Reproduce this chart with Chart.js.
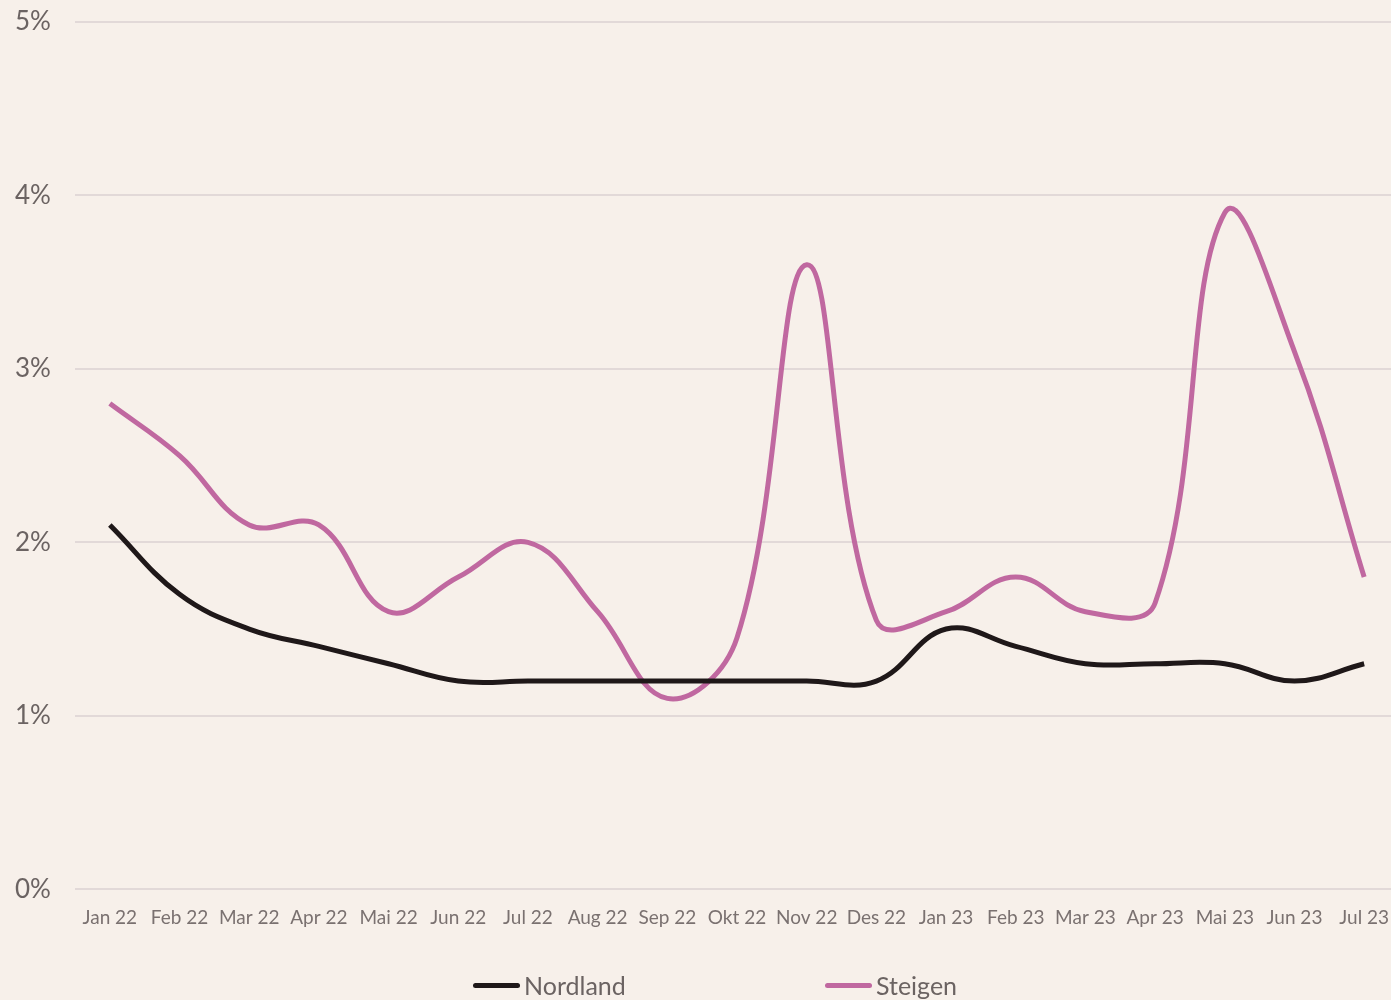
<!DOCTYPE html>
<html>
<head>
<meta charset="utf-8">
<script src="https://cdn.jsdelivr.net/npm/chart.js@4"></script>
<style>
  html, body { margin: 0; padding: 0; background: #f7f0ea; overflow: hidden; }
  #wrap { position: relative; width: 1391px; height: 1000px; overflow: hidden; }
  #legend { position: absolute; top: 970px; left: 0; width: 1391px; height: 30px; font-family: Lato, "Open Sans", sans-serif; font-size: 25px; color: #6b6362; }
  .item { position: absolute; top: 0; display: flex; align-items: center; }
  .swatch { width: 47px; height: 5px; border-radius: 3px; margin-right: 4px; }
</style>
</head>
<body>
<div id="wrap">
  <!-- canvas a bit wider than the page: the original plot runs past the right edge -->
  <canvas id="chart" width="1399" height="1000"></canvas>
  <div id="legend"></div>
</div>
<script>
const months = ['Jan 22', 'Feb 22', 'Mar 22', 'Apr 22', 'Mai 22', 'Jun 22', 'Jul 22', 'Aug 22', 'Sep 22', 'Okt 22',
    'Nov 22', 'Des 22', 'Jan 23', 'Feb 23', 'Mar 23', 'Apr 23', 'Mai 23', 'Jun 23', 'Jul 23'];
const nordland = [2.1, 1.7, 1.5, 1.4, 1.3, 1.2, 1.2, 1.2, 1.2, 1.2, 1.2, 1.2, 1.5, 1.4, 1.3, 1.3, 1.3, 1.2, 1.3];
const steigen = [2.8, 2.5, 2.1, 2.1, 1.6, 1.8, 2.0, 1.6, 1.1, 1.45, 3.6, 1.55, 1.6, 1.8, 1.6, 1.65, 3.9, 3.1, 1.8];
const yTicks = [0, 1, 2, 3, 4, 5];

const nordlandColor = '#1f1819';
const steigenColor = '#c068a0';
const textColor = '#6b6362';

const series = [
    { label: 'Nordland', data: nordland, color: nordlandColor, left: 473 },
    { label: 'Steigen', data: steigen, color: steigenColor, left: 825 }
];

// legend drawn as html under the canvas
const legend = document.getElementById('legend');
series.forEach(s => {
    const el = document.createElement('div');
    el.className = 'item';
    el.style.left = s.left + 'px';
    el.innerHTML = `<span class="swatch" style="background:${s.color}"></span><span>${s.label}</span>`;
    legend.appendChild(el);
});

new Chart(document.getElementById('chart'), {
    type: 'line',
    data: {
        labels: months,
        datasets: series.map(s => ({
            label: s.label,
            data: s.data,
            borderColor: s.color,
            backgroundColor: s.color,
            borderWidth: 5,
            pointRadius: 0,
            tension: 0.4,
            fill: false
        }))
    },
    options: {
        responsive: false,
        animation: false,
        layout: { padding: { top: 22, left: 15, right: 0, bottom: 54 } },
        plugins: { legend: { display: false }, tooltip: { enabled: false } },
        scales: {
            x: {
                offset: true,
                afterFit: scale => { scale.paddingRight = 0; scale.paddingLeft = 0; },
                grid: { display: false, drawTicks: false },
                border: { display: false },
                ticks: {
                    color: '#7a7170',
                    padding: 17,
                    maxRotation: 0,
                    autoSkip: false,
                    font: { family: 'Lato, "Open Sans", sans-serif', size: 19 }
                }
            },
            y: {
                min: 0,
                max: 5,
                afterBuildTicks: scale => { scale.ticks = yTicks.map(v => ({ value: v })); },
                afterFit: scale => { scale.width = 60; },
                grid: { color: '#e2d9d8', lineWidth: 2, drawTicks: false },
                border: { display: false },
                ticks: {
                    crossAlign: 'far',
                    color: textColor,
                    callback: v => v + '%',
                    font: { family: 'Lato, "Open Sans", sans-serif', size: 26 }
                }
            }
        }
    }
});
</script>
</body>
</html>
